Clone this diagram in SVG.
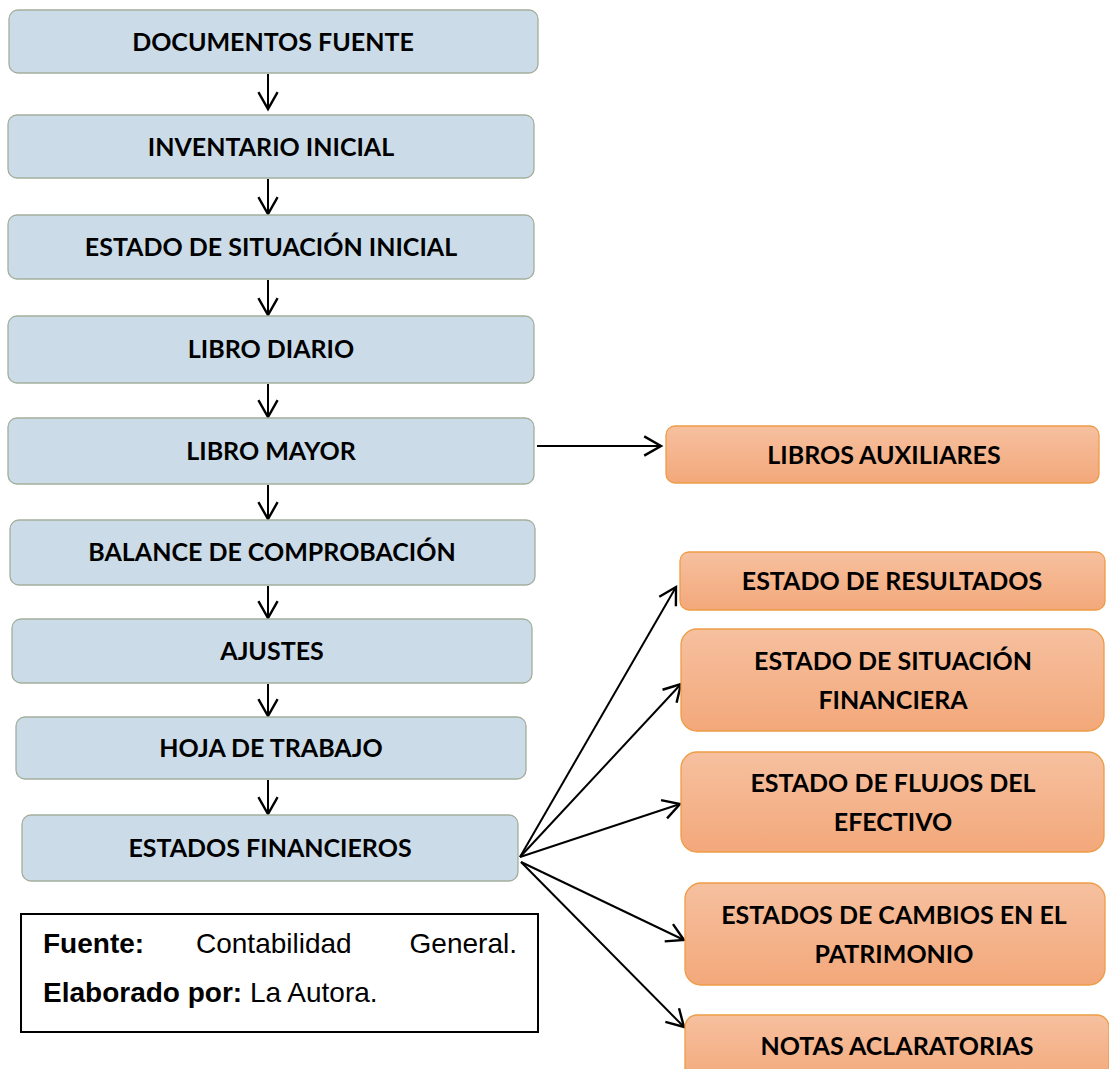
<svg xmlns="http://www.w3.org/2000/svg" width="1109" height="1069" viewBox="0 0 1109 1069">
<style>
.blue{fill:#cbdce8;stroke:#a3ae9c;stroke-width:1.3}
.orange{fill:url(#og);stroke:#ee9c45;stroke-width:1.3}
.t{font-family:Lato,"Open Sans",sans-serif;font-weight:bold;font-size:25px;fill:#000;text-anchor:middle}
.c{fill:none;stroke:#000;stroke-width:2;marker-end:url(#ah)}
.leg{font-family:"Liberation Sans",Arial,sans-serif;font-size:28px;fill:#000}
</style>
<defs>
<linearGradient id="og" x1="0" y1="0" x2="0" y2="1">
<stop offset="0" stop-color="#f6c09f"/>
<stop offset="1" stop-color="#f3a87a"/>
</linearGradient>
<marker id="ah" markerUnits="userSpaceOnUse" markerWidth="24" markerHeight="24" refX="16" refY="10" orient="auto" viewBox="0 0 20 20">
<path d="M2,2 L16,10 L2,18" fill="none" stroke="#000" stroke-width="2"/>
</marker>
</defs>
<g id="connectors">
<line class="c" x1="268" y1="74" x2="268" y2="109"/>
<line class="c" x1="268" y1="179" x2="268" y2="214"/>
<line class="c" x1="268" y1="280" x2="268" y2="315"/>
<line class="c" x1="268" y1="384" x2="268" y2="417"/>
<line class="c" x1="268" y1="485" x2="268" y2="519"/>
<line class="c" x1="268" y1="586" x2="268" y2="618"/>
<line class="c" x1="268" y1="684" x2="268" y2="716"/>
<line class="c" x1="268" y1="780" x2="268" y2="814"/>
<line class="c" x1="537" y1="446" x2="661" y2="446"/>
<line class="c" x1="520" y1="857" x2="676" y2="587"/>
<line class="c" x1="520" y1="857" x2="681" y2="684"/>
<line class="c" x1="520" y1="857" x2="680" y2="804"/>
<line class="c" x1="521" y1="862" x2="684" y2="940"/>
<line class="c" x1="521" y1="862" x2="684" y2="1027"/>
</g>
<g id="n1"><rect class="blue" x="9" y="10" width="529" height="63" rx="9"/><text class="t" x="273" y="51">DOCUMENTOS FUENTE</text></g>
<g id="n2"><rect class="blue" x="8" y="115" width="526" height="63" rx="9"/><text class="t" x="271" y="156">INVENTARIO INICIAL</text></g>
<g id="n3"><rect class="blue" x="8" y="215" width="526" height="64" rx="9"/><text class="t" x="271" y="256">ESTADO DE SITUACIÓN INICIAL</text></g>
<g id="n4"><rect class="blue" x="8" y="316" width="526" height="67" rx="9"/><text class="t" x="271" y="358">LIBRO DIARIO</text></g>
<g id="n5"><rect class="blue" x="8" y="418" width="526" height="66" rx="9"/><text class="t" x="271" y="460">LIBRO MAYOR</text></g>
<g id="n6"><rect class="blue" x="10" y="520" width="525" height="65" rx="9"/><text class="t" x="272" y="561">BALANCE DE COMPROBACIÓN</text></g>
<g id="n7"><rect class="blue" x="12" y="619" width="520" height="64" rx="9"/><text class="t" x="272" y="660">AJUSTES</text></g>
<g id="n8"><rect class="blue" x="16" y="717" width="510" height="62" rx="9"/><text class="t" x="271" y="757">HOJA DE TRABAJO</text></g>
<g id="n9"><rect class="blue" x="22" y="815" width="496" height="66" rx="9"/><text class="t" x="270" y="857">ESTADOS FINANCIEROS</text></g>
<g id="o1"><rect class="orange" x="666" y="426" width="433" height="57" rx="9"/><text class="t" x="884" y="464">LIBROS AUXILIARES</text></g>
<g id="o2"><rect class="orange" x="680" y="552" width="425" height="58" rx="9"/><text class="t" x="892" y="590">ESTADO DE RESULTADOS</text></g>
<g id="o3"><rect class="orange" x="681" y="629" width="423" height="102" rx="16"/><text class="t" x="893" y="670">ESTADO DE SITUACIÓN</text><text class="t" x="893" y="709">FINANCIERA</text></g>
<g id="o4"><rect class="orange" x="681" y="752" width="423" height="100" rx="16"/><text class="t" x="893" y="792">ESTADO DE FLUJOS DEL</text><text class="t" x="893" y="831">EFECTIVO</text></g>
<g id="o5"><rect class="orange" x="685" y="883" width="420" height="102" rx="16"/><text class="t" x="894" y="924">ESTADOS DE CAMBIOS EN EL</text><text class="t" x="894" y="963">PATRIMONIO</text></g>
<g id="o6"><rect class="orange" x="685" y="1015" width="424" height="70" rx="12"/><text class="t" x="897" y="1055">NOTAS ACLARATORIAS</text></g>
<g id="legend">
<rect x="21" y="914" width="517" height="118" fill="#fff" stroke="#000" stroke-width="2"/>
<text class="leg" x="43" y="953"><tspan font-weight="bold">Fuente:</tspan></text>
<text class="leg" x="196" y="953">Contabilidad</text>
<text class="leg" x="517" y="953" text-anchor="end">General.</text>
<text class="leg" x="43" y="1002"><tspan font-weight="bold">Elaborado por:</tspan> La Autora.</text>
</g>
</svg>
